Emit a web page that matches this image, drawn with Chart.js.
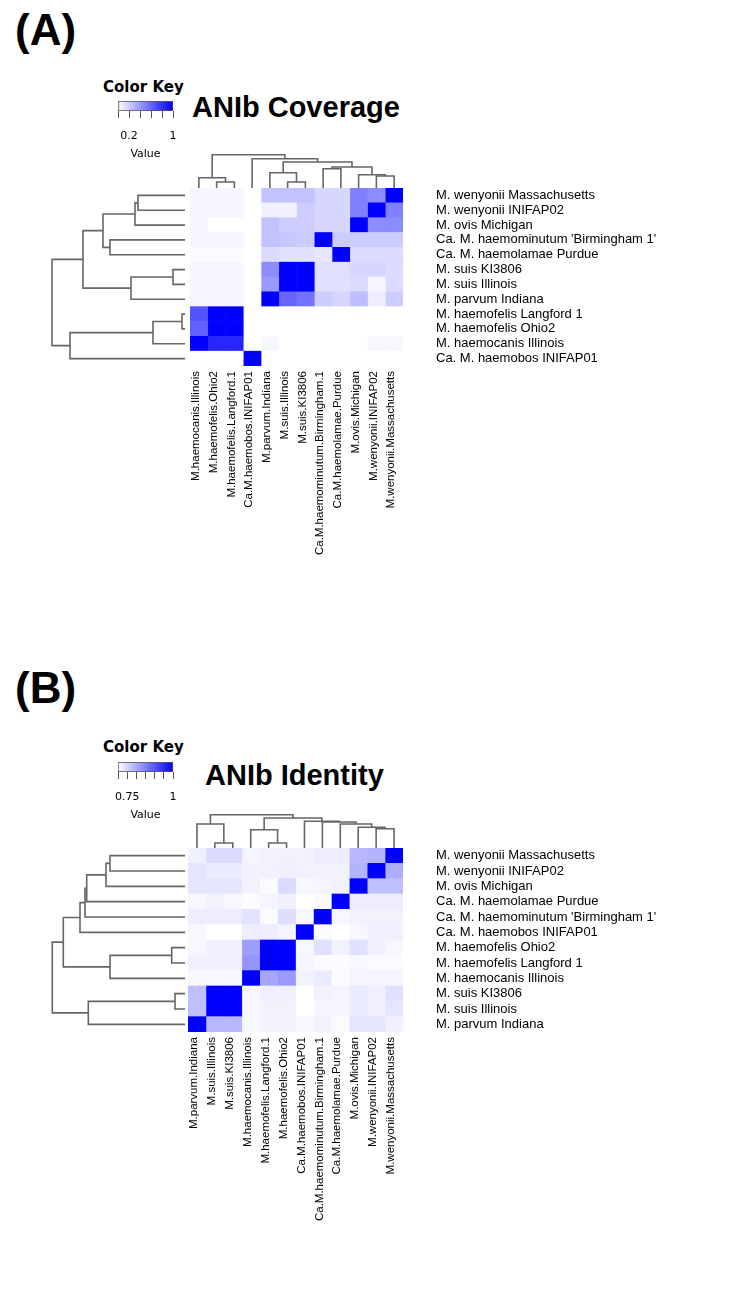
<!DOCTYPE html>
<html>
<head>
<meta charset="utf-8">
<script src="https://cdn.jsdelivr.net/npm/chart.js@4.4.1/dist/chart.umd.min.js"></script>
<style>
  body { margin: 0; background: #fff; width: 736px; height: 1295px; position: relative; overflow: hidden; }
  .box { position: absolute; }
  .panel { position: absolute; left: 15px; font: bold 44px "Liberation Sans", Arial, sans-serif; line-height: 44px; color: #000; }
  .keytitle { position: absolute; left: 103px; font: bold 15px "DejaVu Sans", sans-serif; line-height: 15px; color: #000; }
  .title { position: absolute; font: bold 29px "Liberation Sans", Arial, sans-serif; line-height: 29px; color: #000; }
</style>
</head>
<body>

<div class="panel" style="top:8px">(A)</div>
<div class="keytitle" style="top:80px">Color Key</div>
<div class="title" style="left:192px;top:93px">ANIb Coverage</div>
<div class="box" style="left:100px;top:100px"><canvas id="keyA" width="95" height="66"></canvas></div>
<div class="box" style="left:190px;top:148px"><canvas id="topA" width="213" height="40"></canvas></div>
<div class="box" style="left:45px;top:188px"><canvas id="leftA" width="140" height="178"></canvas></div>
<div class="box" style="left:190px;top:188px"><canvas id="heatA" width="473" height="378"></canvas></div>

<div class="panel" style="top:666px">(B)</div>
<div class="keytitle" style="top:740px">Color Key</div>
<div class="title" style="left:205px;top:761px">ANIb Identity</div>
<div class="box" style="left:100px;top:761px"><canvas id="keyB" width="95" height="66"></canvas></div>
<div class="box" style="left:188px;top:808px"><canvas id="topB" width="215" height="40"></canvas></div>
<div class="box" style="left:45px;top:848px"><canvas id="leftB" width="140" height="184"></canvas></div>
<div class="box" style="left:188px;top:848px"><canvas id="heatB" width="475" height="384"></canvas></div>

<script>
// ---- (A) ANIb coverage ----
const rowsA = ["M. wenyonii Massachusetts", "M. wenyonii INIFAP02", "M. ovis Michigan",
  "Ca. M. haemominutum 'Birmingham 1'", "Ca. M. haemolamae Purdue", "M. suis KI3806",
  "M. suis Illinois", "M. parvum Indiana", "M. haemofelis Langford 1", "M. haemofelis Ohio2",
  "M. haemocanis Illinois", "Ca. M. haemobos INIFAP01"];
const colsA = ["M.haemocanis.Illinois", "M.haemofelis.Ohio2", "M.haemofelis.Langford.1",
  "Ca.M.haemobos.INIFAP01", "M.parvum.Indiana", "M.suis.Illinois", "M.suis.KI3806",
  "Ca.M.haemominutum.Birmingham.1", "Ca.M.haemolamae.Purdue", "M.ovis.Michigan",
  "M.wenyonii.INIFAP02", "M.wenyonii.Massachusetts"];
const coverageA = [
  [0.04, 0.04, 0.04, 0, 0.24, 0.24, 0.24, 0.16, 0.16, 0.5, 0.45, 1],
  [0.04, 0.04, 0.04, 0, 0.06, 0.06, 0.2, 0.16, 0.16, 0.5, 1, 0.5],
  [0.04, 0, 0, 0, 0.24, 0.2, 0.2, 0.16, 0.16, 1, 0.45, 0.45],
  [0.04, 0.04, 0.04, 0, 0.24, 0.22, 0.2, 1, 0.2, 0.2, 0.2, 0.2],
  [0.02, 0.02, 0.02, 0, 0.14, 0.12, 0.12, 0.1, 1, 0.14, 0.14, 0.14],
  [0.04, 0.04, 0.04, 0, 0.45, 1, 1, 0.12, 0.12, 0.16, 0.16, 0.14],
  [0.04, 0.04, 0.04, 0, 0.4, 1, 1, 0.12, 0.12, 0.14, 0.04, 0.14],
  [0.04, 0.04, 0.04, 0, 1, 0.6, 0.55, 0.2, 0.16, 0.26, 0.07, 0.2],
  [0.68, 1, 1, 0, 0, 0, 0, 0, 0, 0, 0, 0],
  [0.62, 1, 1, 0, 0, 0, 0, 0, 0, 0, 0, 0],
  [1, 0.85, 0.85, 0, 0.03, 0, 0, 0, 0, 0, 0.03, 0.03],
  [0, 0, 0, 1, 0, 0, 0, 0, 0, 0, 0, 0]
];
// merges like R hclust: negative = leaf (1-based, display order), positive = earlier merge
const colTreeA = [[-2, -3, 6], [-1, 1, 10.3], [-6, -7, 6], [-5, 3, 15.3], [-11, -12, 12],
  [-10, 5, 13.3], [-8, -9, 19.3], [7, 6, 21], [4, 8, 26], [-4, 9, 29.3], [2, 10, 33.3]];
const rowTreeA = [[-1, -2, 47], [1, -3, 50], [-4, -5, 75], [2, 3, 82], [-6, -7, 12],
  [5, -8, 54], [4, 6, 102], [-9, -10, 3], [8, -11, 32], [9, -12, 115], [7, 10, 133]];
const keyRangeA = [0, 1], keyStepA = 0.2, keyLabelsA = [0.2, 1];

// ---- (B) ANIb identity ----
const rowsB = ["M. wenyonii Massachusetts", "M. wenyonii INIFAP02", "M. ovis Michigan",
  "Ca. M. haemolamae Purdue", "Ca. M. haemominutum 'Birmingham 1'", "Ca. M. haemobos INIFAP01",
  "M. haemofelis Ohio2", "M. haemofelis Langford 1", "M. haemocanis Illinois",
  "M. suis KI3806", "M. suis Illinois", "M. parvum Indiana"];
const colsB = ["M.parvum.Indiana", "M.suis.Illinois", "M.suis.KI3806", "M.haemocanis.Illinois",
  "M.haemofelis.Langford.1", "M.haemofelis.Ohio2", "Ca.M.haemobos.INIFAP01",
  "Ca.M.haemominutum.Birmingham.1", "Ca.M.haemolamae.Purdue", "M.ovis.Michigan",
  "M.wenyonii.INIFAP02", "M.wenyonii.Massachusetts"];
const identityB = [
  [0.718, 0.742, 0.742, 0.712, 0.715, 0.715, 0.715, 0.721, 0.721, 0.784, 0.79, 1],
  [0.73, 0.724, 0.724, 0.715, 0.715, 0.718, 0.715, 0.715, 0.715, 0.79, 1, 0.796],
  [0.73, 0.73, 0.73, 0.715, 0.706, 0.742, 0.709, 0.712, 0.715, 1, 0.775, 0.775],
  [0.709, 0.715, 0.709, 0.706, 0.712, 0.718, 0.70, 0.706, 1, 0.721, 0.721, 0.721],
  [0.721, 0.721, 0.721, 0.733, 0.706, 0.739, 0.709, 1, 0.709, 0.715, 0.715, 0.715],
  [0.709, 0.70, 0.70, 0.721, 0.721, 0.712, 1, 0.706, 0.70, 0.709, 0.718, 0.718],
  [0.709, 0.718, 0.718, 0.814, 1, 1, 0.709, 0.736, 0.715, 0.736, 0.718, 0.709],
  [0.718, 0.718, 0.718, 0.826, 1, 1, 0.712, 0.706, 0.706, 0.709, 0.706, 0.706],
  [0.709, 0.709, 0.709, 1, 0.805, 0.82, 0.715, 0.724, 0.706, 0.712, 0.712, 0.712],
  [0.775, 1, 1, 0.709, 0.718, 0.718, 0.70, 0.715, 0.712, 0.724, 0.718, 0.736],
  [0.775, 1, 1, 0.709, 0.715, 0.715, 0.70, 0.712, 0.712, 0.724, 0.718, 0.73],
  [1, 0.784, 0.784, 0.709, 0.715, 0.715, 0.709, 0.715, 0.706, 0.73, 0.73, 0.718]
];
const colTreeB = [[-2, -3, 5], [-1, 1, 24], [-5, -6, 5], [-4, 3, 18.3], [-11, -12, 19.3],
  [-10, 5, 20.7], [-9, 6, 24], [-8, 7, 26], [-7, 8, 26.7], [4, 9, 30], [2, 10, 33.3]];
const rowTreeB = [[-1, -2, 75], [1, -3, 79], [2, -4, 98.3], [3, -5, 100], [4, -6, 105],
  [-7, -8, 13.3], [6, -9, 75], [5, 7, 121.7], [-10, -11, 10], [9, -12, 96.7], [8, 10, 132.7]];
const keyRangeB = [0.7, 1], keyStepB = 0.05, keyLabelsB = [0.75, 1];

Chart.defaults.font.family = "'Liberation Sans', Arial, sans-serif";
Chart.defaults.color = "#000";

// white -> blue
function shade(v, lo, hi) {
  const t = Math.min(1, Math.max(0, (v - lo) / (hi - lo)));
  const c = Math.round(255 * (1 - t));
  return "rgb(" + c + "," + c + ",255)";
}

// fixed axis size, and no extra label padding pushed into the plot area
function fixSize(prop, size) {
  return (s) => {
    s[prop] = size;
    s.paddingTop = 0; s.paddingBottom = 0; s.paddingLeft = 0; s.paddingRight = 0;
  };
}

function heatmap(id, rows, cols, matrix, range) {
  const datasets = cols.map((c, j) => ({
    label: c,
    data: rows.map(() => 1),
    backgroundColor: rows.map((r, i) => shade(matrix[i][j], range[0], range[1])),
    borderWidth: 0,
    barPercentage: 1,
    categoryPercentage: 1,
  }));
  new Chart(document.getElementById(id), {
    type: "bar",
    data: { labels: rows, datasets: datasets },
    options: {
      indexAxis: "y",
      responsive: false,
      animation: false,
      layout: { padding: 0, autoPadding: false },
      plugins: { legend: { display: false }, tooltip: { enabled: false } },
      scales: {
        x: { stacked: true, min: 0, max: cols.length, display: false },
        y: {
          stacked: true,
          position: "right",
          grid: { display: false, drawTicks: false },
          border: { display: false },
          ticks: { autoSkip: false, font: { size: 13 }, padding: 33 },
          afterFit: fixSize("width", 260),
        },
        cols: {
          type: "category",
          axis: "x",
          position: "bottom",
          labels: cols,
          offset: true,
          grid: { display: false, drawTicks: false },
          border: { display: false },
          ticks: { autoSkip: false, minRotation: 90, maxRotation: 90, padding: 5, labelOffset: -3, font: { size: 11.5 } },
          afterFit: fixSize("height", 200),
        },
      },
    },
  });
}

// turn the merge list into bracket segments (leaf i sits at i - 0.5)
function treeSegments(merges) {
  const pos = [], hgt = [];
  const node = (k) => (k < 0 ? { p: -k - 0.5, h: 0 } : { p: pos[k - 1], h: hgt[k - 1] });
  return merges.map(([a, b, h]) => {
    const A = node(a), B = node(b);
    pos.push((A.p + B.p) / 2);
    hgt.push(h);
    return [{ p: A.p, h: A.h }, { p: A.p, h: h }, { p: B.p, h: h }, { p: B.p, h: B.h }];
  });
}

function dendrogram(id, merges, n, hMax, sideways) {
  const datasets = treeSegments(merges).map((seg) => ({
    data: seg.map((q) => (sideways ? { x: q.h, y: q.p } : { x: q.p, y: q.h })),
    showLine: true,
    pointRadius: 0,
    borderColor: "#666",
    borderWidth: 1.6,
    clip: false,
  }));
  const posAxis = { type: "linear", min: 0, max: n, display: false, reverse: sideways };
  const hAxis = { type: "linear", min: 0, max: hMax, display: false, reverse: sideways };
  new Chart(document.getElementById(id), {
    type: "scatter",
    data: { datasets: datasets },
    options: {
      responsive: false,
      animation: false,
      layout: { padding: 0, autoPadding: false },
      plugins: { legend: { display: false }, tooltip: { enabled: false } },
      scales: sideways ? { x: hAxis, y: posAxis } : { x: posAxis, y: hAxis },
    },
  });
}

function colorKey(id, range, step, shown) {
  new Chart(document.getElementById(id), {
    type: "bar",
    data: {
      labels: ["key"],
      datasets: [{
        data: [range],
        backgroundColor: (ctx) => {
          const a = ctx.chart.chartArea;
          if (!a) return "#fff";
          const g = ctx.chart.ctx.createLinearGradient(a.left, 0, a.right, 0);
          g.addColorStop(0, "#fff");
          g.addColorStop(1, "#0000ff");
          return g;
        },
        borderColor: "#555",
        borderWidth: 1,
        borderSkipped: false,
        barPercentage: 1,
        categoryPercentage: 1,
      }],
    },
    options: {
      indexAxis: "y",
      responsive: false,
      animation: false,
      layout: { padding: { left: 18, right: 22, top: 1 }, autoPadding: false },
      plugins: { legend: { display: false }, tooltip: { enabled: false } },
      scales: {
        y: { display: false },
        x: {
          min: range[0],
          max: range[1],
          grid: { drawOnChartArea: false, color: "#555", tickLength: 7 },
          border: { display: false },
          ticks: {
            stepSize: step,
            autoSkip: false,
            maxRotation: 0,
            padding: 12,
            font: { family: "'DejaVu Sans'", size: 11 },
            callback: (v) => {
              const hit = shown.find((s) => Math.abs(s - v) < 1e-6);
              return hit === undefined ? "" : String(hit);
            },
          },
          title: { display: true, text: "Value", font: { family: "'DejaVu Sans'", size: 11 }, padding: { top: 0, bottom: 5 } },
          afterFit: fixSize("height", 55),
        },
      },
    },
  });
}

colorKey("keyA", keyRangeA, keyStepA, keyLabelsA);
dendrogram("topA", colTreeA, colsA.length, 40, false);
dendrogram("leftA", rowTreeA, rowsA.length, 140, true);
heatmap("heatA", rowsA, colsA, coverageA, keyRangeA);

colorKey("keyB", keyRangeB, keyStepB, keyLabelsB);
dendrogram("topB", colTreeB, colsB.length, 40, false);
dendrogram("leftB", rowTreeB, rowsB.length, 140, true);
heatmap("heatB", rowsB, colsB, identityB, keyRangeB);
</script>
</body>
</html>
